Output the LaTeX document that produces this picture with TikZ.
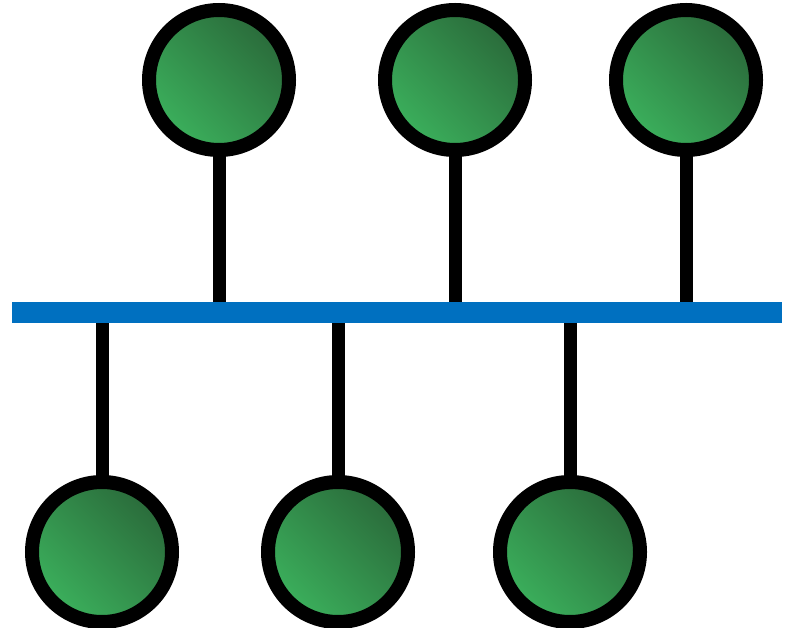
\documentclass[tikz,border=0pt]{standalone}
\definecolor{busblue}{HTML}{0070C0}
\definecolor{gdark}{HTML}{2A6A3A}
\definecolor{glight}{HTML}{3BB05C}
\begin{document}
\begin{tikzpicture}[x=1pt,y=-1pt,
  station/.style={circle,draw=black,line width=14pt,minimum size=140pt,inner sep=0pt,
    top color=gdark,bottom color=glight,shading angle=-45},
  drop/.style={line width=13pt,draw=black},
  bus/.style={line width=21pt,draw=busblue}]
\useasboundingbox (0,0) rectangle (794,628);
\coordinate (busL) at (12,312.5);
\coordinate (busR) at (782,312.5);
\coordinate (t1b) at (219,312.5);
\coordinate (t2b) at (455,312.5);
\coordinate (t3b) at (686,312.5);
\coordinate (b1b) at (102,312.5);
\coordinate (b2b) at (338,312.5);
\coordinate (b3b) at (570,312.5);
\draw[drop] (t1b) -- (219,80);
\draw[drop] (t2b) -- (455,80);
\draw[drop] (t3b) -- (686,80);
\draw[drop] (b1b) -- (102,552);
\draw[drop] (b2b) -- (338,552);
\draw[drop] (b3b) -- (570,552);
\node[station] (t1) at (219,80) {};
\node[station] (t2) at (455,80) {};
\node[station] (t3) at (686,80) {};
\node[station] (b1) at (102,552) {};
\node[station] (b2) at (338,552) {};
\node[station] (b3) at (570,552) {};
\draw[bus] (busL) -- (busR);
\end{tikzpicture}
\end{document}
